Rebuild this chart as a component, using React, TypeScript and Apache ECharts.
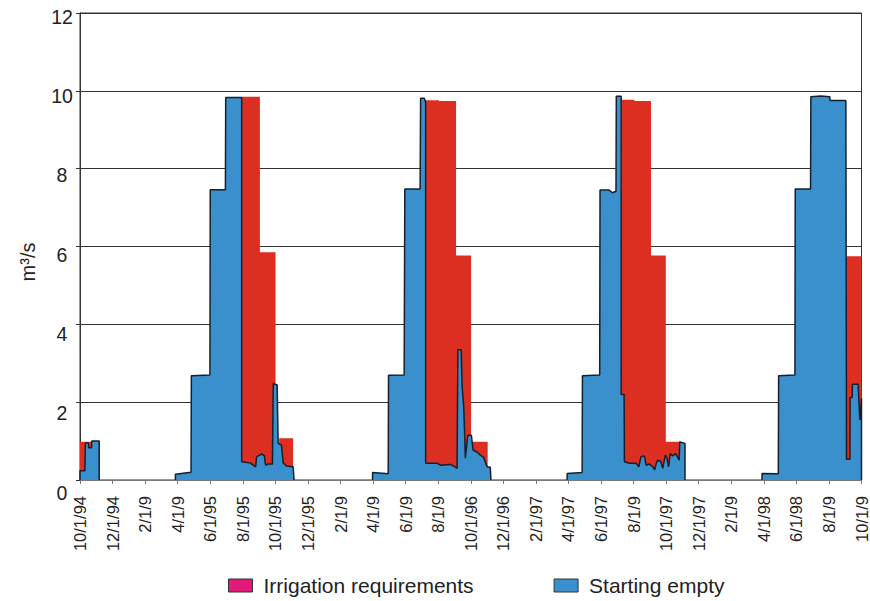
import React, { useEffect, useRef } from "react";
import * as echarts from "echarts";

// x values are months since 10/1/94
const xTickLabels = [
  "10/1/94", "12/1/94", "2/1/9", "4/1/9", "6/1/95", "8/1/95", "10/1/95", "12/1/95", "2/1/9",
  "4/1/9", "6/1/9", "8/1/9", "10/1/96", "12/1/96", "2/1/97", "4/1/97", "6/1/97", "8/1/9",
  "10/1/97", "12/1/97", "2/1/9", "4/1/98", "6/1/98", "8/1/9", "10/1/9",
];
const yTicks = [0, 2, 4, 6, 8, 10, 12];

const irrigation1994 = [[0, 0], [0, 0.98], [0.72, 0.98], [0.72, 0]];
const irrigation1995 = [
  [9.93, 0], [9.93, 9.85], [11.05, 9.85], [11.05, 5.85], [12.01, 5.85], [12.01, 0],
  [12.23, 0], [12.23, 1.07], [13.09, 1.07], [13.09, 0],
];
const irrigation1996 = [
  [21.2, 0], [21.2, 9.76], [22.05, 9.76], [22.05, 9.74], [23.1, 9.74], [23.1, 5.77],
  [24.02, 5.77], [24.02, 0.98], [25.04, 0.98], [25.04, 0],
];
const irrigation1997 = [
  [33.28, 0], [33.28, 9.77], [34.05, 9.77], [34.05, 9.74], [35.07, 9.74], [35.07, 5.77],
  [35.98, 5.77], [35.98, 0.98], [36.9, 0.98], [36.9, 0],
];
const irrigation1998 = [[47.08, 0], [47.08, 5.75], [48, 5.75], [48, 0]];

const empty1994 = [
  [0, 0], [0, 0.24], [0.3, 0.24], [0.33, 0.95], [0.52, 0.95], [0.53, 0.83], [0.71, 0.83],
  [0.72, 1.0], [1.18, 1.0], [1.18, 0],
];
const empty1995 = [
  [5.86, 0], [5.86, 0.15], [6.82, 0.2], [6.84, 2.68], [7.98, 2.7], [8.0, 7.46], [8.93, 7.46],
  [8.95, 9.83], [9.93, 9.83], [9.93, 0.47], [10.44, 0.44], [10.79, 0.34], [10.85, 0.6],
  [11.05, 0.64], [11.15, 0.67], [11.32, 0.62], [11.4, 0.38], [11.56, 0.41], [11.82, 0.41],
  [11.87, 2.48], [12.11, 2.44], [12.17, 0.94], [12.37, 0.9], [12.48, 0.44], [12.68, 0.36],
  [13.09, 0.34], [13.15, 0],
];
const empty1996 = [
  [17.97, 0], [17.97, 0.19], [18.93, 0.16], [18.95, 2.69], [19.91, 2.7], [19.95, 7.48],
  [20.89, 7.48], [20.92, 9.81], [21.15, 9.81], [21.23, 9.7], [21.23, 0.43], [21.94, 0.43],
  [22.14, 0.38], [22.75, 0.4], [23.06, 0.33], [23.16, 0.3], [23.21, 3.35], [23.41, 3.35],
  [23.47, 2.4], [23.57, 1.88], [23.67, 0.56], [23.82, 1.15], [24.04, 1.15], [24.14, 0.77],
  [24.38, 0.72], [24.59, 0.64], [24.79, 0.58], [25.0, 0.34], [25.2, 0.33], [25.24, 0],
];
const empty1997 = [
  [29.92, 0], [29.92, 0.17], [30.84, 0.19], [30.86, 2.68], [31.92, 2.7], [31.94, 7.45],
  [32.5, 7.45], [32.7, 7.38], [32.92, 7.42], [32.94, 9.86], [33.24, 9.86], [33.24, 2.2],
  [33.42, 2.2], [33.44, 0.47], [33.75, 0.43], [34.16, 0.43], [34.32, 0.34], [34.46, 0.6],
  [34.66, 0.62], [34.77, 0.38], [34.97, 0.41], [35.18, 0.34], [35.3, 0.26], [35.38, 0.41],
  [35.48, 0.51], [35.68, 0.47], [35.79, 0.3], [35.95, 0.64], [36.05, 0.56], [36.15, 0.34],
  [36.25, 0.68], [36.4, 0.62], [36.59, 0.68], [36.8, 0.51], [36.84, 0.98], [37.16, 0.94],
  [37.16, 0],
];
const empty1998 = [
  [41.89, 0], [41.89, 0.17], [42.89, 0.16], [42.91, 2.68], [43.91, 2.7], [43.93, 7.48],
  [44.87, 7.48], [44.89, 9.85], [45.5, 9.87], [46.05, 9.85], [46.07, 9.75], [47.04, 9.75],
  [47.08, 0.53], [47.29, 0.53], [47.3, 2.12], [47.43, 2.12], [47.44, 2.46], [47.79, 2.46],
  [47.9, 1.54], [48, 2.1], [48, 0],
];

const BREAK = (x: number) => [x, "-"];
const irrigationData = [
  ...irrigation1994, BREAK(3),
  ...irrigation1995, BREAK(15),
  ...irrigation1996, BREAK(27),
  ...irrigation1997, BREAK(39),
  ...irrigation1998,
];
const emptyData = [
  ...empty1994, BREAK(3),
  ...empty1995, BREAK(15),
  ...empty1996, BREAK(27),
  ...empty1997, BREAK(39),
  ...empty1998,
];

const FONT = "'Liberation Sans', Arial, Helvetica, sans-serif";

export default function App() {
  const ref = useRef<HTMLDivElement>(null);
  useEffect(() => {
    if (!ref.current) return;
    const chart = echarts.init(ref.current, null, { renderer: "svg" });
    chart.setOption({
      animation: false,
      backgroundColor: "#ffffff",
      grid: {
        left: 80, right: 4, top: 13, bottom: 121,
        show: true, borderColor: "#333", borderWidth: 1,
      },
      legend: {
        left: 223, top: 570, icon: "rect", itemWidth: 24, itemHeight: 13, itemGap: 80,
        textStyle: { fontSize: 21, color: "#222", fontFamily: FONT, padding: [0, 0, 0, 6] },
        data: [
          { name: "Irrigation requirements", itemStyle: { color: "#e2197b", borderColor: "#333", borderWidth: 1 } },
          { name: "Starting empty", itemStyle: { color: "#3a8fcd", borderColor: "#333", borderWidth: 1 } },
        ],
      },
      xAxis: {
        type: "value", min: 0, max: 48, interval: 2,
        axisLine: { show: true, lineStyle: { color: "#777", width: 1 } },
        axisTick: { show: true, length: 4, inside: false, lineStyle: { color: "#777" } },
        splitLine: { show: false },
        axisLabel: {
          rotate: 90, margin: 16, fontSize: 16.5, color: "#222", fontFamily: FONT,
          padding: [6, 0, 0, 0],
          formatter: (v: number) => xTickLabels[Math.round(v / 2)] ?? "",
        },
      },
      yAxis: {
        type: "value", min: 0, max: 12, interval: 2,
        axisLine: { show: true, lineStyle: { color: "#333", width: 1 } },
        axisTick: { show: true, length: 4, lineStyle: { color: "#333" } },
        splitLine: { show: true, lineStyle: { color: "#333", width: 1 } },
        axisLabel: { show: false },
      },
      series: [
        {
          name: "Irrigation requirements", type: "line", data: irrigationData,
          showSymbol: false, symbol: "none", connectNulls: false,
          lineStyle: { width: 0, color: "#dd2e22" },
          itemStyle: { color: "#dd2e22" },
          areaStyle: { color: "#dd2e22", opacity: 1 },
        },
        {
          name: "Starting empty", type: "line", data: emptyData,
          showSymbol: false, symbol: "none", connectNulls: false,
          lineStyle: { width: 1.5, color: "#16202c" },
          itemStyle: { color: "#3a8fcd" },
          areaStyle: { color: "#3a8fcd", opacity: 1 },
        },
      ],
    });
    const labels = yTicks.map((v) => {
      const py = chart.convertToPixel({ yAxisIndex: 0 }, v) as number;
      return {
        type: "text",
        x: 62,
        y: py + 12.5 - 0.75 * v,
        style: { text: String(v), font: `19.5px ${FONT}`, fill: "#222", align: "center", verticalAlign: "middle" },
      };
    });
    chart.setOption({
      graphic: [
        ...labels,
        {
          type: "text", x: 28, y: 262, rotation: Math.PI / 2,
          style: { text: "m³/s", font: `20px ${FONT}`, fill: "#222", align: "center", verticalAlign: "middle" },
        },
      ],
    });
    return () => chart.dispose();
  }, []);
  return (
    <div
      ref={ref}
      style={{ position: "fixed", left: 0, top: 0, width: 870, height: 601, background: "#fff" }}
    />
  );
}
